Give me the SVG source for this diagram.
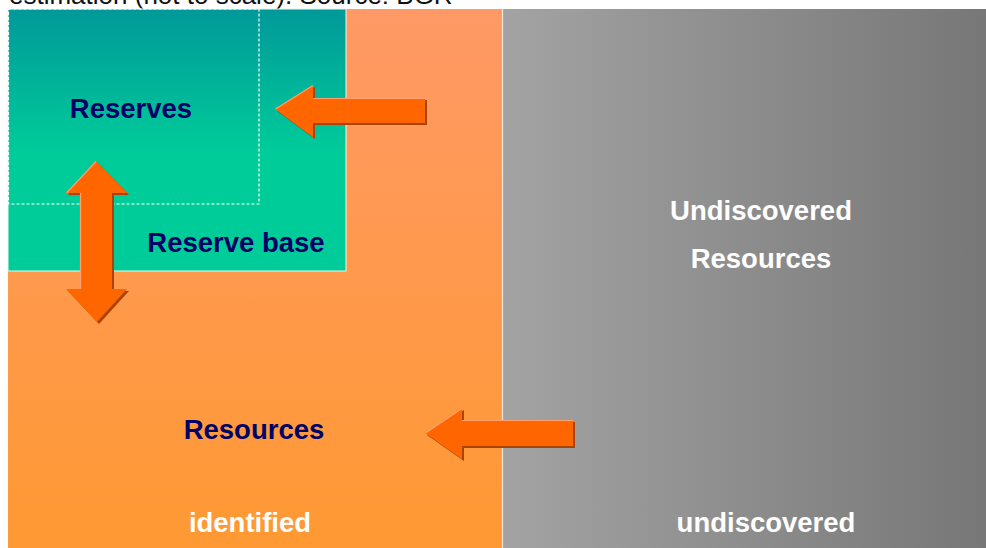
<svg xmlns="http://www.w3.org/2000/svg" width="986" height="548" viewBox="0 0 986 548">
<defs>
<linearGradient id="gTeal" x1="0" y1="0" x2="0" y2="1">
<stop offset="0" stop-color="#009999"/>
<stop offset="0.55" stop-color="#00CC99"/>
<stop offset="1" stop-color="#00CC99"/>
</linearGradient>
<linearGradient id="gOrange" x1="0" y1="0" x2="0" y2="1">
<stop offset="0" stop-color="#FF9966"/>
<stop offset="1" stop-color="#FF9933"/>
</linearGradient>
<linearGradient id="gGray" x1="0" y1="0" x2="1" y2="0">
<stop offset="0" stop-color="#A3A3A3"/>
<stop offset="1" stop-color="#777777"/>
</linearGradient>
</defs>
<style>
.lbl{font-family:"Liberation Sans",Arial,sans-serif;font-weight:bold;font-size:27.5px;text-anchor:middle}
.navy{fill:#000066}
.white{fill:#FFFFFF}
.cap{font-family:"Liberation Sans",Arial,sans-serif;font-size:26px;fill:#111111}
.arrow{fill:#FF6600}
.shadow{fill:#A84400}
.hl{fill:none;stroke:#FFA070;stroke-width:1.2}
</style>
<rect x="0" y="0" width="986" height="548" fill="#FFFFFF"/>
<text class="cap" x="9" y="4">estimation (not to scale). Source: BGR</text>
<g id="identified-resources">
<rect x="8" y="9" width="495" height="539" fill="url(#gOrange)"/>
<text class="lbl navy" x="254" y="439">Resources</text>
<text class="lbl white" x="250" y="532">identified</text>
</g>
<g id="undiscovered-resources">
<rect x="503" y="9" width="483" height="539" fill="url(#gGray)"/>
<line x1="502.5" y1="9" x2="502.5" y2="548" stroke="#F4E6DC" stroke-width="1.2"/>
<text class="lbl white" x="761" y="220">Undiscovered</text>
<text class="lbl white" x="761" y="268">Resources</text>
<text class="lbl white" x="766" y="532">undiscovered</text>
</g>
<g id="reserve-base">
<rect x="8" y="9" width="338" height="262" fill="url(#gTeal)" stroke="#E8F8F0" stroke-width="1"/>
<text class="lbl navy" x="236" y="252">Reserve base</text>
</g>
<g id="reserves">
<rect x="8.5" y="9" width="250.5" height="195" fill="none" stroke="#FFFFFF" stroke-width="1.2" stroke-dasharray="3,2"/>
<text class="lbl navy" x="131" y="118">Reserves</text>
</g>
<g id="connectors">
<g id="arrow-reserves">
<polygon class="shadow" points="277,111 315,87 315,100 427,100 427,125 315,125 315,139"/>
<polygon class="arrow" points="275,109 313,85 313,98 425,98 425,123 313,123 313,137"/>
<polyline class="hl" points="275.5,109 313,85.5"/>
<polyline class="hl" points="313,98.5 425,98.5"/>
</g>
<g id="arrow-resources">
<polygon class="shadow" points="427,435 464,410 464,422 575,422 575,448 464,448 464,461"/>
<polygon class="arrow" points="425,433 462,408 462,420 573,420 573,446 462,446 462,459"/>
<polyline class="hl" points="425.5,433 462,408.5"/>
<polyline class="hl" points="462,420.5 573,420.5"/>
</g>
<g id="arrow-double">
<polygon class="shadow" points="98,163 129,195 114,195 114,291 129,291 99,324 68,291 82,291 82,195 68,195"/>
<polygon class="arrow" points="96,161 127,193 112,193 112,289 127,289 97,322 66,289 80,289 80,193 66,193"/>
<polyline class="hl" points="66.5,193 96,161.5"/>
<polyline class="hl" points="80.5,193 80.5,289"/>
</g>
</g>
</svg>
